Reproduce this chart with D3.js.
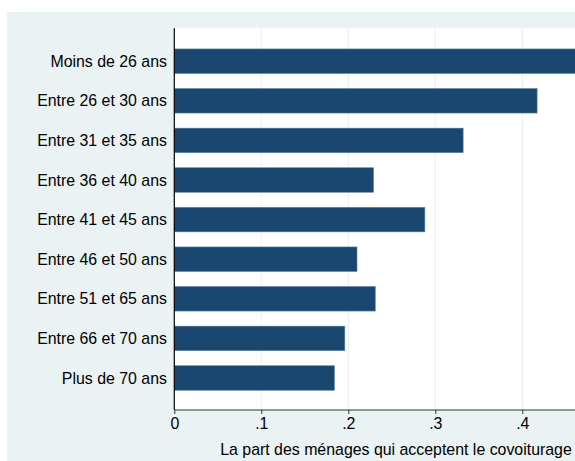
<!DOCTYPE html>
<html><head><meta charset="utf-8">
<script src="https://cdn.jsdelivr.net/npm/d3@7"></script>
<style>
html,body{margin:0;padding:0;background:#fff;overflow:hidden}
text{font-family:"Liberation Sans",Arial,sans-serif;}
</style></head>
<body><svg id="c" width="575" height="461"></svg>
<script>
const categories = ["Moins de 26 ans","Entre 26 et 30 ans","Entre 31 et 35 ans","Entre 36 et 40 ans","Entre 41 et 45 ans","Entre 46 et 50 ans","Entre 51 et 65 ans","Entre 66 et 70 ans","Plus de 70 ans"];
const values = [0.47, 0.417, 0.332, 0.229, 0.288, 0.210, 0.231, 0.196, 0.184];
const xTicks = [0, 0.1, 0.2, 0.3, 0.4];
const xTickLabels = ["0", ".1", ".2", ".3", ".4"];
const xTitle = "La part des ménages qui acceptent le covoiturage";

const svg = d3.select("#c");
const W = 575, H = 461;
const plot = {left: 174.3, top: 28.3, bottom: 410};
const fs = "15.9px";

svg.append("rect").attr("x", 7).attr("y", 12).attr("width", W).attr("height", H)
  .attr("fill", "#eaf2f3");
svg.append("rect").attr("x", plot.left).attr("y", plot.top)
  .attr("width", W - plot.left + 10).attr("height", plot.bottom - plot.top).attr("fill", "#fff");

const x = d3.scaleLinear().domain([0, 0.4]).range([plot.left, plot.left + 348]);
const y = d3.scalePoint().domain(categories).range([61.2, 378]);
const bh = 24.5;

// gridlines
svg.append("g").selectAll("line").data(xTicks.slice(1)).join("line")
  .attr("x1", d => x(d)).attr("x2", d => x(d))
  .attr("y1", plot.top).attr("y2", plot.bottom)
  .attr("stroke", "#eaf2f3").attr("stroke-width", 1.2);

// bars
svg.append("g").selectAll("rect").data(categories).join("rect")
  .attr("x", plot.left).attr("y", d => y(d) - bh / 2)
  .attr("width", (d, i) => x(values[i]) - plot.left).attr("height", bh)
  .attr("fill", "#1a476f").attr("stroke", "#5a7fa0").attr("stroke-width", 0.6);

// y labels
svg.append("g").selectAll("text").data(categories).join("text")
  .attr("x", 167).attr("y", d => y(d)).attr("dy", "0.35em")
  .attr("text-anchor", "end").attr("font-size", fs).attr("fill", "#000")
  .text(d => d);

// y axis line
svg.append("line").attr("x1", plot.left).attr("x2", plot.left)
  .attr("y1", plot.top).attr("y2", plot.bottom).attr("stroke", "#000").attr("stroke-width", 1.2);

// x axis
const xAxis = d3.axisBottom(x).tickValues(xTicks).tickFormat((d, i) => xTickLabels[i]).tickSize(4).tickPadding(4);
const gx = svg.append("g").attr("transform", `translate(0,${plot.bottom})`).call(xAxis);
gx.select(".domain").attr("d", `M${plot.left},0H${W + 5}`).attr("stroke", "#333").attr("stroke-width", 1.2);
gx.selectAll(".tick line").attr("stroke", "#333");
gx.selectAll(".tick text").attr("font-size", fs).attr("fill", "#000")
  .attr("font-family", "Liberation Sans, Arial, sans-serif");

svg.append("text").attr("x", 396).attr("y", 455).attr("text-anchor", "middle")
  .attr("font-size", fs).attr("fill", "#000").text(xTitle);
</script></body></html>
